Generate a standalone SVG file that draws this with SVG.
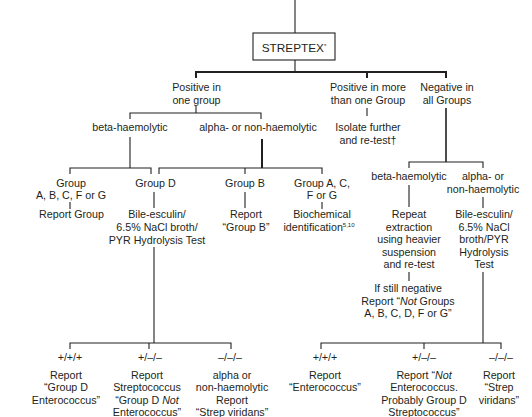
<svg xmlns="http://www.w3.org/2000/svg" width="532" height="417" viewBox="0 0 532 417">
<style>
text{font-family:"Liberation Sans",Arial,Helvetica,sans-serif;font-size:10.7px;fill:#231f20;text-anchor:middle}
.big{font-size:11.8px}
.sup{font-size:6px}
.c{fill:none;stroke:#231f20;stroke-width:1.1}
.t{fill:none;stroke:#231f20;stroke-width:2}
</style>
<rect width="532" height="417" fill="#ffffff"/>
<g id="connectors">
<path class="c" d="M295 0V33M295 60V72"/>
<path class="t" d="M196 78V72H446V78M367 72V78"/>
<path class="c" d="M196 106V113M130 119V113H261V119"/>
<path class="c" d="M367 108V116"/>
<path class="t" d="M446 108V162" style="stroke-width:1.6"/>
<path class="c" d="M409 168V162H483V168"/>
<path class="c" d="M130 137V168M70 174V168H151V174"/>
<path class="t" d="M262 139V168"/>
<path class="c" d="M159 174V168H322V174M245 168V174"/>
<path class="c" d="M70 202V209M154 192V208M245 192V208M322 202V209"/>
<path class="c" d="M154 247V343M70 349V343H231V349M149 343V349"/>
<path class="c" d="M409 185V207M483 197V208M409 272V281"/>
<path class="c" d="M483 272V343M321 349V343H501V349M424 343V349"/>
</g>
<g id="streptex">
<rect x="253" y="33" width="82" height="27" fill="#ffffff" stroke="#231f20" stroke-width="1.1"/>
<text class="big" x="294" y="51.5">STREPTEX<tspan class="sup" dy="-4">*</tspan></text>
</g>
<g id="pos-one"><text x="196.5" y="91">Positive in</text><text x="196.5" y="103.8">one group</text></g>
<g id="pos-more"><text x="368" y="91">Positive in more</text><text x="368" y="103.8">than one Group</text></g>
<g id="neg-all"><text x="447" y="91">Negative in</text><text x="447" y="103.8">all Groups</text></g>
<g id="beta-1"><text x="130" y="131">beta-haemolytic</text></g>
<g id="alpha-1"><text x="258" y="131">alpha- or non-haemolytic</text></g>
<g id="isolate"><text x="368" y="131">Isolate further</text><text x="368" y="143.8">and re-test†</text></g>
<g id="beta-2"><text x="409" y="180">beta-haemolytic</text></g>
<g id="alpha-2"><text x="483" y="180">alpha- or</text><text x="483" y="192.8">non-haemolytic</text></g>
<g id="group-abcfg"><text x="71" y="186.5">Group</text><text x="71" y="199">A, B, C, F or G</text></g>
<g id="group-d"><text x="155.5" y="186.5">Group D</text></g>
<g id="group-b"><text x="245" y="186.5">Group B</text></g>
<g id="group-acfg"><text x="322" y="186.5">Group A, C,</text><text x="322" y="199">F or G</text></g>
<g id="report-group"><text x="71.5" y="218">Report Group</text></g>
<g id="bile-1"><text x="157" y="218">Bile-esculin/</text><text x="157" y="230.8">6.5% NaCl broth/</text><text x="157" y="243.6">PYR Hydrolysis Test</text></g>
<g id="report-b"><text x="246" y="218">Report</text><text x="246" y="230.8">“Group B”</text></g>
<g id="biochem"><text x="322" y="218">Biochemical</text><text x="319" y="230.8">identification<tspan class="sup" dy="-4">5,10</tspan></text></g>
<g id="repeat"><text x="409" y="218">Repeat</text><text x="409" y="230.6">extraction</text><text x="409" y="243.2">using heavier</text><text x="409" y="255.8">suspension</text><text x="409" y="268.4">and re-test</text></g>
<g id="bile-2"><text x="484" y="218">Bile-esculin/</text><text x="484" y="230.6">6.5% NaCl</text><text x="484" y="243.2">broth/PYR</text><text x="484" y="255.8">Hydrolysis</text><text x="484" y="268.4">Test</text></g>
<g id="still-neg"><text x="408" y="292">If still negative</text><text x="408" y="304.6">Report “<tspan font-style="italic">Not</tspan> Groups</text><text x="408" y="317.2">A, B, C, D, F or G”</text></g>
<g id="l-ppp"><text x="70" y="361">+/+/+</text><text x="66" y="379">Report</text><text x="66" y="391.3">“Group D</text><text x="66" y="403.6">Enterococcus”</text></g>
<g id="l-pmm"><text x="150" y="361">+/–/–</text><text x="147" y="379">Report</text><text x="147" y="391.3">Streptococcus</text><text x="147" y="403.6">“Group D <tspan font-style="italic">Not</tspan></text><text x="147" y="415.9">Enterococcus”</text></g>
<g id="l-mmm"><text x="230" y="361">–/–/–</text><text x="232" y="379">alpha or</text><text x="232" y="391.3">non-haemolytic</text><text x="232" y="403.6">Report</text><text x="232" y="415.9">“Strep viridans”</text></g>
<g id="r-ppp"><text x="325" y="361">+/+/+</text><text x="325" y="379">Report</text><text x="325" y="391.3">“Enterococcus”</text></g>
<g id="r-pmm"><text x="424" y="361">+/–/–</text><text x="424" y="379">Report “<tspan font-style="italic">Not</tspan></text><text x="424" y="391.3">Enterococcus.</text><text x="424" y="403.6">Probably Group D</text><text x="424" y="415.9">Streptococcus”</text></g>
<g id="r-mmm"><text x="501" y="361">–/–/–</text><text x="499" y="379">Report</text><text x="499" y="391.3">“Strep</text><text x="499" y="403.6">viridans”</text></g>
</svg>
